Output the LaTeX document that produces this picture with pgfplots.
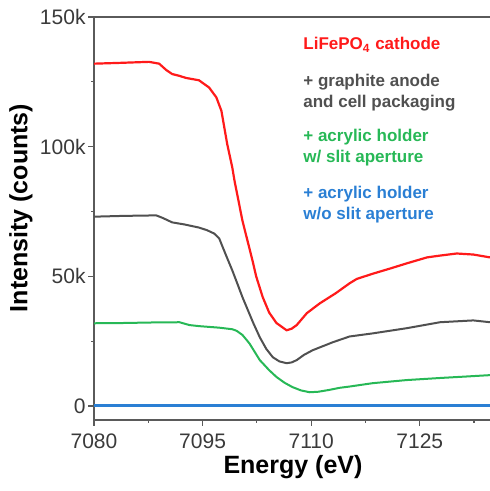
\documentclass[border=0pt]{standalone}
\usepackage{pgfplots}
\pgfplotsset{compat=1.18}
\usepackage{fontspec}
\setmainfont{Liberation Sans}
\definecolor{cred}{HTML}{FF1A1A}
\definecolor{cgray}{HTML}{505050}
\definecolor{cgreen}{HTML}{27B856}
\definecolor{cblue}{HTML}{2A7FD4}
\definecolor{axgray}{HTML}{5A5A5A}
\definecolor{tickgray}{HTML}{3A3A3A}

\begin{document}
\begin{tikzpicture}
\path[use as bounding box] (0,0) rectangle (245pt,245.5pt);
\begin{axis}[
    at={(47pt,35.5pt)}, anchor=south west,
    scale only axis, width=198pt, height=201.5pt,
    xmin=7080, xmax=7134.7, ymin=-5400, ymax=150000,
    axis x line*=box, axis y line*=left,
    axis line style={axgray, line width=0.7pt},
    xtick={7080,7095,7110,7125}, minor xtick={7087.5,7102.5,7117.5,7132.5},
    ytick={0,50000,100000,150000}, minor ytick={25000,75000,125000},
    yticklabels={0,50k,100k,150k},
    xtick pos=bottom, ytick pos=left, tick align=outside,
    major tick length=3pt, minor tick length=1.5pt,
    every tick/.style={axgray, line width=0.6pt},
    scaled y ticks=false,
    /pgf/number format/assume math mode=true,
    xticklabel={\pgfmathprintnumber[1000 sep={}]{\tick}},
    tick label style={font=\fontsize{10.5}{12}\selectfont, text=tickgray},
    yticklabel style={xshift=2.3pt},
    xticklabel style={yshift=-0.3pt},
    clip=true,
]
% acrylic holder w/o slit aperture
\addplot[cblue, line width=1.3pt] coordinates {
(7080,300) (7095,300) (7110,300) (7125,300) (7134.7,300)};
% acrylic holder w/ slit aperture
\addplot[cgreen, line width=1pt] coordinates {
(7080,31900) (7084,32000) (7088,32200) (7091.8,32300) (7093.2,31200) (7094.5,30800)
(7097.3,30200) (7099.1,29600) (7099.7,29000) (7100.5,27400) (7101.1,25400)
(7101.5,24000) (7102.9,17700) (7104.2,13800) (7105.2,11200) (7106.3,9000)
(7107.4,7300) (7108.6,6000) (7109.8,5300) (7111.0,5500) (7112.5,6200)
(7113.9,7000) (7115.3,7500) (7118.5,8800) (7123.2,10000) (7127.8,10800)
(7131,11300) (7134.7,11900)};
% + graphite anode and cell packaging
\addplot[cgray, line width=1pt] coordinates {
(7080,73000) (7084,73300) (7088.6,73500) (7089.5,72500) (7090.8,70800)
(7092.5,70000) (7094.5,68800) (7095.6,67800) (7096.6,66500) (7097.3,64600)
(7097.7,61800) (7098.4,57000) (7099.1,52300) (7099.8,47200) (7100.5,42000)
(7101.1,38000) (7102.0,32000) (7102.9,26500) (7103.8,22000) (7104.7,18800)
(7105.6,17200) (7106.6,16500) (7107.3,16800) (7108.0,17700) (7109.0,19700)
(7110.2,21500) (7113.0,24600) (7115.3,26800) (7118.5,28000) (7123.2,30000)
(7127.8,32300) (7132.4,33000) (7134.7,32300)};
% LiFePO4 cathode
\addplot[cred, line width=1.1pt] coordinates {
(7080,132000) (7083.5,132300) (7087.6,132700) (7089.0,132000) (7090.0,129500)
(7090.8,128000) (7091.8,127300) (7092.7,126500) (7094.5,125600) (7095.9,122800)
(7096.9,119000) (7097.6,113800) (7098.0,107400) (7098.4,101000) (7099.1,92000)
(7099.4,87000) (7100.5,71500) (7101.9,56000) (7102.4,50000) (7103.3,42000)
(7104.2,36000) (7105.2,32000) (7106.6,29200) (7107.3,29800) (7108.0,31200)
(7109.4,35800) (7111.2,39600) (7113.4,43500) (7115.3,47300) (7116.3,49000)
(7118.5,51000) (7120.9,53000) (7123.2,55000) (7126.0,57300) (7127.8,58000)
(7130.1,58800) (7132.4,58400) (7134.7,57300)};
\end{axis}
\node[font=\fontsize{12.5}{14}\selectfont\bfseries] at (146.5pt,12pt) {Energy (eV)};
\node[font=\fontsize{12.5}{14}\selectfont\bfseries, rotate=90] at (10.5pt,141.5pt) {Intensity (counts)};
\begin{scope}[font=\fontsize{8.5}{10.5}\selectfont\bfseries]
\node[anchor=west, inner sep=0pt, text=cred] at (151.5pt,223pt) {LiFePO\textsubscript{4} cathode};
\node[anchor=west, inner sep=0pt, text=cgray, align=left] at (151.5pt,199.25pt) {+ graphite anode\\and cell packaging};
\node[anchor=west, inner sep=0pt, text=cgreen, align=left] at (151.5pt,171.5pt) {+ acrylic holder\\w/ slit aperture};
\node[anchor=west, inner sep=0pt, text=cblue, align=left] at (151.5pt,143.25pt) {+ acrylic holder\\w/o slit aperture};
\end{scope}
\end{tikzpicture}
\end{document}
